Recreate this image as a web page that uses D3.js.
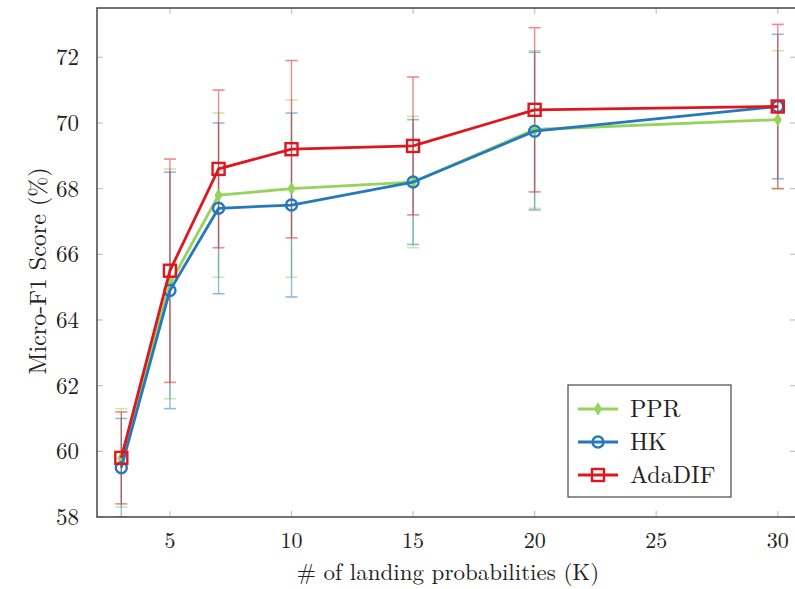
<!DOCTYPE html>
<html>
<head>
<meta charset="utf-8">
<script src="https://cdn.jsdelivr.net/npm/d3@7"></script>
<style>
  body { margin: 0; background: #fff; }
</style>
</head>
<body>
<div id="chart"></div>
<script>
"use strict"

// -------------------------------------
// Data
// -------------------------------------
var kValues = [3, 5, 7, 10, 15, 20, 30]

var pprMean = [59.8, 65.1, 67.8, 68.0, 68.2, 69.8, 70.1]
var pprErr  = [1.5, 3.5, 2.5, 2.7, 2.0, 2.4, 2.1]

var hkMean = [59.5, 64.9, 67.4, 67.5, 68.2, 69.75, 70.5]
var hkErr  = [1.5, 3.6, 2.6, 2.8, 1.9, 2.4, 2.2]

var adaMean = [59.8, 65.5, 68.6, 69.2, 69.3, 70.4, 70.5]
var adaErr  = [1.4, 3.4, 2.4, 2.7, 2.1, 2.5, 2.5]

var xTicks = [5, 10, 15, 20, 25, 30]
var yTicks = [58, 60, 62, 64, 66, 68, 70, 72]

var series = [
    { name: "PPR", mean: pprMean, err: pprErr, color: "#95d35a", marker: "diamond" },
    { name: "HK", mean: hkMean, err: hkErr, color: "#2479bd", marker: "circle" },
    { name: "AdaDIF", mean: adaMean, err: adaErr, color: "#e0161f", marker: "square" }
]

// -------------------------------------
// Layout
// -------------------------------------
var width = 795, height = 589
var plot = { left: 97, right: 796, top: 8, bottom: 517 }
var font = "'Latin Modern Roman', 'Liberation Serif', serif"

var svg = d3.select("#chart").append("svg")
    .attr("width", width)
    .attr("height", height)
    .attr("font-family", font)

var x = d3.scaleLinear().domain([2, 30.75]).range([plot.left, plot.right])
var y = d3.scaleLinear().domain([58, 73.5]).range([plot.bottom, plot.top])

// tick marks inside the box (pgfplots style)
var tickLen = 6
var tickColor = "#c4c4c4"
svg.append("g").selectAll("line")
    .data(xTicks)
    .enter().append("line")
    .attr("x1", d => x(d)).attr("x2", d => x(d))
    .attr("y1", plot.bottom).attr("y2", plot.bottom - tickLen)
    .attr("stroke", tickColor).attr("stroke-width", 1.2)

svg.append("g").selectAll("line")
    .data(xTicks)
    .enter().append("line")
    .attr("x1", d => x(d)).attr("x2", d => x(d))
    .attr("y1", plot.top).attr("y2", plot.top + tickLen)
    .attr("stroke", tickColor).attr("stroke-width", 1.2)

svg.append("g").selectAll("line")
    .data(yTicks)
    .enter().append("line")
    .attr("x1", plot.left).attr("x2", plot.left + tickLen)
    .attr("y1", d => y(d)).attr("y2", d => y(d))
    .attr("stroke", tickColor).attr("stroke-width", 1.2)

svg.append("g").selectAll("line")
    .data(yTicks)
    .enter().append("line")
    .attr("x1", plot.right).attr("x2", plot.right - tickLen)
    .attr("y1", d => y(d)).attr("y2", d => y(d))
    .attr("stroke", tickColor).attr("stroke-width", 1.2)

// tick labels
svg.append("g").selectAll("text")
    .data(xTicks)
    .enter().append("text")
    .attr("x", d => x(d))
    .attr("y", plot.bottom + 31)
    .attr("text-anchor", "middle")
    .attr("font-size", 22)
    .attr("fill", "#222")
    .text(d => d)

svg.append("g").selectAll("text")
    .data(yTicks)
    .enter().append("text")
    .attr("x", plot.left - 18)
    .attr("y", d => y(d) + 8)
    .attr("text-anchor", "end")
    .attr("font-size", 23)
    .attr("fill", "#222")
    .text(d => d)

// axis titles
svg.append("text")
    .attr("x", 448)
    .attr("y", 580)
    .attr("text-anchor", "middle")
    .attr("font-size", 23)
    .attr("fill", "#222")
    .text("# of landing probabilities (K)")

svg.append("text")
    .attr("transform", `translate(46, 271) rotate(-90)`)
    .attr("text-anchor", "middle")
    .attr("font-size", 24)
    .attr("fill", "#222")
    .text("Micro-F1 Score (%)")

// clip region for the data
svg.append("clipPath").attr("id", "clip")
    .append("rect")
    .attr("x", plot.left).attr("y", plot.top)
    .attr("width", plot.right - plot.left).attr("height", plot.bottom - plot.top)

var dataLayer = svg.append("g").attr("clip-path", "url(#clip)")

// -------------------------------------
// Error bars
// -------------------------------------
var capW = 6
series.forEach(function (s) {
    var g = dataLayer.append("g").attr("opacity", 0.5)
    kValues.forEach(function (k, i) {
        var lo = y(s.mean[i] - s.err[i]), hi = y(s.mean[i] + s.err[i])
        g.append("line")
            .attr("x1", x(k)).attr("x2", x(k))
            .attr("y1", lo).attr("y2", hi)
            .attr("stroke", s.color).attr("stroke-width", 1.4)
        ;[lo, hi].forEach(function (yy) {
            g.append("line")
                .attr("x1", x(k) - capW).attr("x2", x(k) + capW)
                .attr("y1", yy).attr("y2", yy)
                .attr("stroke", s.color).attr("stroke-width", 1.6)
        })
    })
})

// -------------------------------------
// Lines and markers
// -------------------------------------
var line = d3.line()
    .x((d, i) => x(kValues[i]))
    .y(d => y(d))

function drawMarker(g, type, cx, cy, color) {
    if (type === "square") {
        g.append("rect")
            .attr("x", cx - 6).attr("y", cy - 6)
            .attr("width", 12).attr("height", 12)
            .attr("fill", "none").attr("stroke", color).attr("stroke-width", 2.4)
    } else if (type === "circle") {
        g.append("circle")
            .attr("cx", cx).attr("cy", cy).attr("r", 5.5)
            .attr("fill", "none").attr("stroke", color).attr("stroke-width", 2.4)
    } else {
        g.append("path")
            .attr("d", `M${cx},${cy - 6}L${cx + 3.5},${cy}L${cx},${cy + 6}L${cx - 3.5},${cy}Z`)
            .attr("fill", color).attr("stroke", color).attr("stroke-width", 1)
    }
}

series.forEach(function (s) {
    dataLayer.append("path")
        .datum(s.mean)
        .attr("fill", "none")
        .attr("stroke", s.color)
        .attr("stroke-width", 2.8)
        .attr("stroke-linejoin", "round")
        .attr("d", line)
    var mg = dataLayer.append("g")
    s.mean.forEach(function (v, i) {
        drawMarker(mg, s.marker, x(kValues[i]), y(v), s.color)
    })
})

// box
svg.append("rect")
    .attr("x", plot.left).attr("y", plot.top)
    .attr("width", plot.right - plot.left).attr("height", plot.bottom - plot.top)
    .attr("fill", "none").attr("stroke", "#444").attr("stroke-width", 1.5)

// -------------------------------------
// Legend
// -------------------------------------
var legend = svg.append("g").attr("transform", "translate(568, 385)")
legend.append("rect")
    .attr("width", 163).attr("height", 112)
    .attr("fill", "#fff").attr("stroke", "#555").attr("stroke-width", 1.3)

series.forEach(function (s, i) {
    var ly = 24 + i * 33
    legend.append("line")
        .attr("x1", 10).attr("x2", 50)
        .attr("y1", ly).attr("y2", ly)
        .attr("stroke", s.color).attr("stroke-width", 2.8)
    drawMarker(legend, s.marker, 30, ly, s.color)
    legend.append("text")
        .attr("x", 62).attr("y", ly + 8)
        .attr("font-size", 24)
        .attr("fill", "#222")
        .text(s.name)
})
</script>
</body>
</html>
